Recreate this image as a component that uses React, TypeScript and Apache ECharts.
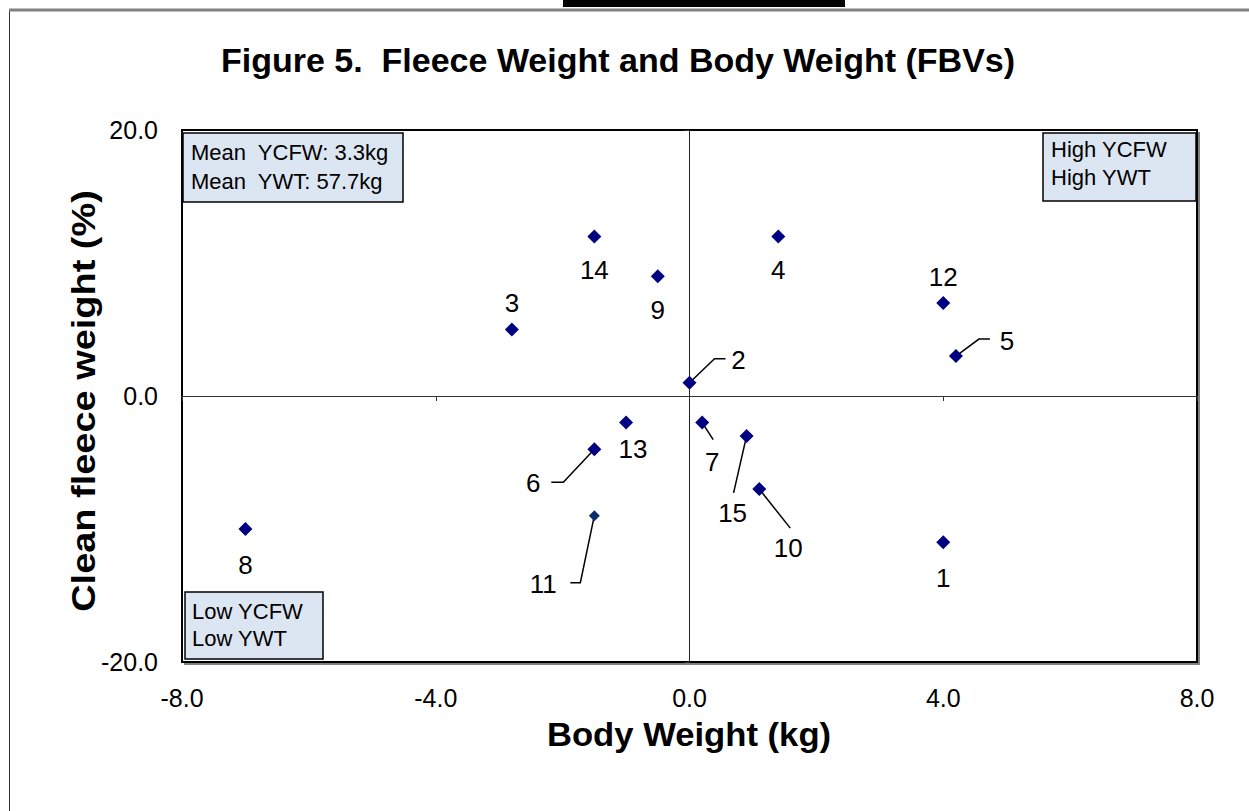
import React, { useEffect, useRef } from "react";
import * as echarts from "echarts";

// ---- data ----
const sheepIds = [1, 2, 3, 4, 5, 6, 7, 8, 9, 10, 11, 12, 13, 14, 15];
const bodyWeight = [4.0, 0.0, -2.8, 1.4, 4.2, -1.5, 0.2, -7.0, -0.5, 1.1, -1.5, 4.0, -1.0, -1.5, 0.9];
const fleeceWeight = [-11.0, 1.0, 5.0, 12.0, 3.0, -4.0, -2.0, -10.0, 9.0, -7.0, -9.0, 7.0, -2.0, 12.0, -3.0];
const xTicks = [-8, -4, 0, 4, 8];
const yTicks = [-20, 0, 20];
const titleText = "Figure 5.  Fleece Weight and Body Weight (FBVs)";
const xTitle = "Body Weight (kg)";
const yTitle = "Clean fleece weight (%)";
const meanBox = ["Mean  YCFW: 3.3kg", "Mean  YWT: 57.7kg"];
const highBox = ["High YCFW", "High YWT"];
const lowBox = ["Low YCFW", "Low YWT"];

// label placement (pixel offsets from each point) and leader lines
const labelOffsets: number[][] = [
  [0, 36], [49, -23], [0, -27], [0, 34], [51, -15], [-61, 34], [10, 39], [0, 36],
  [0, 34], [29, 59], [-51, 68], [0, -26], [7, 26], [0, 34], [-14, 77],
];
const leaderLines: (number[][] | null)[] = [
  null,
  [[0, 0], [25, -24], [36, -24]],
  null, null,
  [[0, 0], [23, -17], [34, -17]],
  [[0, 0], [-31, 33], [-43, 33]],
  [[0, 0], [11, 17]],
  null, null,
  [[0, 0], [31, 39]],
  [[0, 0], [-14, 67], [-24, 67]],
  null, null, null,
  [[0, 0], [-13, 57]],
];

const FONT = "'Liberation Sans', Arial, sans-serif";
const GRID = { left: 182, top: 130, right: 52, bottom: 149 };

function box(x: number, y: number, w: number, h: number, lines: string[], tx: number, ty: number[]) {
  return {
    type: "group",
    z: 20,
    children: [
      { type: "rect", shape: { x, y, width: w, height: h }, style: { fill: "#dce6f2", stroke: "#000", lineWidth: 1.5 }, z: 20 },
      ...lines.map((t, i) => ({
        type: "text",
        z: 21,
        style: { text: t, x: tx, y: ty[i], fill: "#000", font: `22px ${FONT}`, align: "left", verticalAlign: "middle" },
      })),
    ],
  };
}

export default function App() {
  const ref = useRef<HTMLDivElement>(null);
  useEffect(() => {
    if (!ref.current) return;
    const chart = echarts.init(ref.current, undefined, { renderer: "svg" });
    const W = 1249, H = 811;
    const gw = W - GRID.left - GRID.right;
    const gh = H - GRID.top - GRID.bottom;
    const option: any = {
      animation: false,
      backgroundColor: "#fff",
      title: {
        text: titleText,
        left: 216,
        top: 38,
        textStyle: { fontFamily: FONT, fontSize: 34, fontWeight: "bold", color: "#000" },
      },
      grid: { ...GRID, show: true, backgroundColor: "#fff", borderColor: "#000", borderWidth: 2 },
      xAxis: [
        {
          type: "value", min: xTicks[0], max: xTicks[xTicks.length - 1], interval: 4, position: "bottom",
          axisLine: { show: false, onZero: false }, axisTick: { show: false }, splitLine: { show: false },
          axisLabel: { formatter: (v: number) => v.toFixed(1), fontSize: 25, color: "#000", fontFamily: FONT, margin: 23 },
        },
        {
          type: "value", min: xTicks[0], max: xTicks[xTicks.length - 1], interval: 4, position: "bottom",
          axisLine: { show: true, onZero: true, onZeroAxisIndex: 0, lineStyle: { color: "#333", width: 1 } },
          axisTick: { show: true, length: 5, lineStyle: { color: "#333" } },
          axisLabel: { show: false }, splitLine: { show: false },
        },
      ],
      yAxis: [
        {
          type: "value", min: yTicks[0], max: yTicks[yTicks.length - 1], interval: 20, position: "left",
          axisLine: { show: false, onZero: false }, axisTick: { show: false }, splitLine: { show: false },
          axisLabel: { formatter: (v: number) => v.toFixed(1), fontSize: 25, color: "#000", fontFamily: FONT, margin: 24 },
        },
        {
          type: "value", min: yTicks[0], max: yTicks[yTicks.length - 1], interval: 20, position: "left",
          axisLine: { show: true, onZero: true, onZeroAxisIndex: 0, lineStyle: { color: "#222", width: 1 } },
          axisTick: { show: true, length: 5, lineStyle: { color: "#333" } },
          axisLabel: { show: false }, splitLine: { show: false },
        },
      ],
      series: [
        {
          type: "scatter",
          xAxisIndex: 0, yAxisIndex: 0,
          symbol: "diamond",
          symbolSize: (_v: any, p: any) => (p.dataIndex === 10 ? 11 : 14),
          itemStyle: { opacity: 1, color: (p: any) => (p.dataIndex === 10 ? "#0b2d6b" : "#000080") },
          data: bodyWeight.map((x, i) => [x, fleeceWeight[i]]),
          z: 6,
          silent: true,
        },
        {
          type: "custom",
          xAxisIndex: 0, yAxisIndex: 0,
          silent: true,
          z: 5,
          data: bodyWeight.map((x, i) => [x, fleeceWeight[i], sheepIds[i]]),
          renderItem: (params: any, api: any) => {
            const i = params.dataIndex;
            const p = api.coord([api.value(0), api.value(1)]);
            const off = labelOffsets[i];
            const children: any[] = [];
            const leader = leaderLines[i];
            if (leader) {
              children.push({
                type: "polyline",
                shape: { points: leader.map(([dx, dy]) => [p[0] + dx, p[1] + dy]) },
                style: { stroke: "#000", lineWidth: 1.5, fill: null },
              });
            }
            children.push({
              type: "text",
              style: {
                text: String(api.value(2)), x: p[0] + off[0], y: p[1] + off[1],
                align: "center", verticalAlign: "middle", font: `26px ${FONT}`, fill: "#000",
              },
            });
            return { type: "group", children };
          },
        },
      ],
      graphic: [
        { type: "rect", z: -10, shape: { x: GRID.left + 2, y: GRID.top + 2, width: gw + 1, height: gh + 1 }, style: { fill: "#808080" } },
        { type: "line", z: 1, shape: { x1: 9.5, y1: 10, x2: 9.5, y2: H }, style: { stroke: "#333", lineWidth: 1 } },
        { type: "line", z: 1, shape: { x1: 9, y1: 10, x2: W, y2: 10 }, style: { stroke: "#808080", lineWidth: 3 } },
        { type: "rect", z: 1, shape: { x: 563, y: 0, width: 282, height: 7 }, style: { fill: "#000" } },
        {
          type: "text", z: 10, x: 689, y: 734, scaleX: 1.05,
          style: { text: xTitle, fill: "#000", font: `bold 33px ${FONT}`, align: "center", verticalAlign: "middle" },
        },
        {
          type: "text", z: 10, x: 84, y: 401, rotation: Math.PI / 2, scaleX: 1.15,
          style: { text: yTitle, fill: "#000", font: `bold 33px ${FONT}`, align: "center", verticalAlign: "middle" },
        },
        box(183, 133, 220, 69, meanBox, 191, [152, 181]),
        box(1043, 133, 153, 68, highBox, 1051, [149, 177]),
        box(185, 592, 138, 67, lowBox, 192, [611, 638]),
      ],
    };
    chart.setOption(option);
    return () => chart.dispose();
  }, []);
  return <div ref={ref} style={{ position: "absolute", left: 0, top: 0, width: 1249, height: 811 }} />;
}
